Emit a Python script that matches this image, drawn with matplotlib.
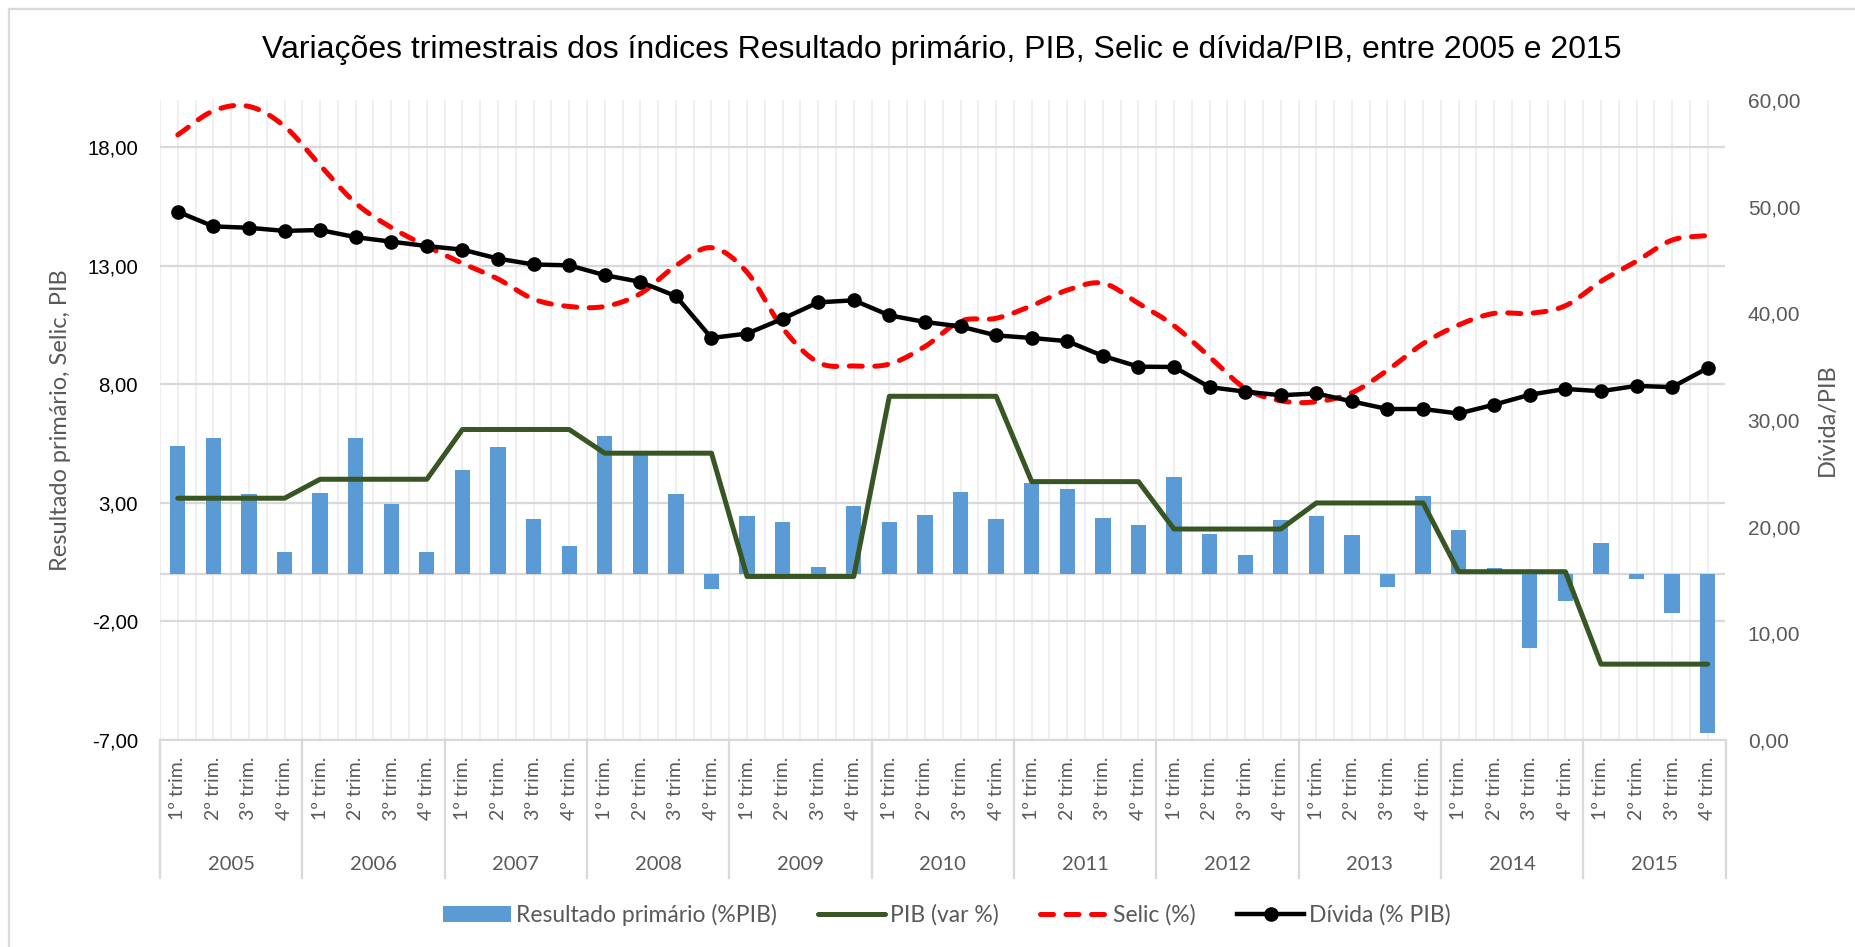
import numpy as np
import matplotlib
matplotlib.use("Agg")
import matplotlib.pyplot as plt
from matplotlib.patches import Patch, Rectangle
from matplotlib.lines import Line2D
from matplotlib.transforms import blended_transform_factory

# ---------------- data ----------------
years = ["2005", "2006", "2007", "2008", "2009", "2010",
         "2011", "2012", "2013", "2014", "2015"]
quarters = ["1º trim.", "2º trim.", "3º trim.", "4º trim."]

resultado_primario = [5.40, 5.73, 3.36, 0.93,
                      3.40, 5.73, 2.95, 0.92,
                      4.41, 5.35, 2.33, 1.20,
                      5.83, 5.10, 3.36, -0.62,
                      2.47, 2.19, 0.30, 2.87,
                      2.19, 2.48, 3.47, 2.33,
                      3.85, 3.60, 2.36, 2.08,
                      4.11, 1.67, 0.80, 2.29,
                      2.44, 1.64, -0.53, 3.29,
                      1.85, 0.25, -3.12, -1.14,
                      1.31, -0.19, -1.64, -6.69]

pib_anual = [3.2, 4.0, 6.1, 5.1, -0.1, 7.5, 3.9, 1.9, 3.0, 0.1, -3.8]

selic = [18.53, 19.54, 19.73, 18.89,
         17.25, 15.65, 14.62, 13.83,
         13.11, 12.45, 11.60, 11.29,
         11.29, 11.83, 13.01, 13.77,
         12.73, 10.38, 8.93, 8.78,
         8.86, 9.60, 10.67, 10.79,
         11.32, 11.98, 12.27, 11.42,
         10.48, 9.16, 7.84, 7.31,
         7.27, 7.65, 8.60, 9.72,
         10.51, 11.00, 11.00, 11.32,
         12.35, 13.20, 14.09, 14.28]

divida = [49.53, 48.15, 48.02, 47.73,
          47.81, 47.14, 46.72, 46.31,
          45.97, 45.13, 44.58, 44.50,
          43.58, 42.95, 41.61, 37.69,
          38.10, 39.49, 41.03, 41.22,
          39.81, 39.19, 38.77, 37.93,
          37.69, 37.39, 36.01, 35.00,
          34.97, 33.08, 32.66, 32.32,
          32.49, 31.74, 31.03, 31.03,
          30.61, 31.44, 32.37, 32.91,
          32.70, 33.20, 33.08, 34.87]

left_ticks = [-7, -2, 3, 8, 13, 18]
right_ticks = [0, 10, 20, 30, 40, 50, 60]

# ---------------- helpers ----------------
def catmull_rom(xs, ys, n=20):
    xs = np.asarray(xs, float); ys = np.asarray(ys, float)
    px = np.concatenate([[2 * xs[0] - xs[1]], xs, [2 * xs[-1] - xs[-2]]])
    py = np.concatenate([[2 * ys[0] - ys[1]], ys, [2 * ys[-1] - ys[-2]]])
    outx, outy = [], []
    t = np.linspace(0, 1, n, endpoint=False)
    for i in range(1, len(px) - 2):
        p0, p1, p2, p3 = (np.array([px[j], py[j]]) for j in (i - 1, i, i + 1, i + 2))
        c1 = p1 + (p2 - p0) / 6.0
        c2 = p2 - (p3 - p1) / 6.0
        b = ((1 - t) ** 3)[:, None] * p1 + (3 * (1 - t) ** 2 * t)[:, None] * c1 \
            + (3 * (1 - t) * t ** 2)[:, None] * c2 + (t ** 3)[:, None] * p2
        outx.extend(b[:, 0]); outy.extend(b[:, 1])
    outx.append(xs[-1]); outy.append(ys[-1])
    return np.array(outx), np.array(outy)

def fmt(v):
    return f"{v:.2f}".replace(".", ",")

# ---------------- figure ----------------
W, H = 1856, 947
fig = plt.figure(figsize=(W / 100, H / 100), dpi=100)
L, R, T, B = 160, 1725.5, 100, 740
ax = fig.add_axes([L / W, 1 - B / H, (R - L) / W, (B - T) / H])
ax2 = ax.twinx()

n = len(years) * len(quarters)
x = np.arange(n)
pib = np.repeat(pib_anual, 4)

SELIC_DASH = (2.6, 2.5)

# gridlines
for xv in np.arange(-0.5, n, 0.5):
    ax.axvline(xv, color="#EEEEEE", lw=1.3, zorder=0)
for yv in left_ticks:
    ax.axhline(yv, color="#D9D9D9", lw=1.6, zorder=0.5)
ax.axhline(0, color="#D9D9D9", lw=1.6, zorder=0.5)

ax.bar(x, resultado_primario, width=0.43, color="#5B9BD5", zorder=2)
ax.plot(x, pib, color="#375623", lw=3.6, solid_capstyle="round",
        solid_joinstyle="round", zorder=3)
sx, sy = catmull_rom(x, selic)
ax.plot(sx, sy, color="#FF0000", lw=3.6, dashes=SELIC_DASH,
        dash_capstyle="round", zorder=4)

ax2.plot(x, divida, color="black", lw=3.2, marker="o", markersize=9.5,
         solid_joinstyle="round", zorder=5)

ax.set_xlim(-0.5, n - 0.5)
ax.set_ylim(-7, 20)
ax2.set_ylim(0, 60)

for a in (ax, ax2):
    for s in a.spines.values():
        s.set_visible(False)
ax.spines["bottom"].set_visible(True)
ax.spines["bottom"].set_color("#D9D9D9")
ax.spines["bottom"].set_linewidth(1.6)

ax.set_yticks(left_ticks)
ax.set_yticklabels([fmt(v) for v in left_ticks], fontsize=14.7,
                   fontfamily="Liberation Sans", color="black")
ax.tick_params(axis="y", length=0, pad=16)
ax2.set_yticks(right_ticks)
ax2.set_yticklabels([fmt(v) for v in right_ticks], fontsize=15,
                    fontfamily="Liberation Sans", color="#595959")
ax2.tick_params(axis="y", length=0, pad=16)

ax.set_xticks(x)
ax.set_xticklabels(quarters * len(years), rotation=90, fontsize=14,
                   fontfamily="Lato", color="#595959")
ax.tick_params(axis="x", length=0, pad=12)

trans = blended_transform_factory(ax.transData, ax.transAxes)
sep_bottom = -(878 - 740) / (B - T)
for k in range(len(years) + 1):
    xb = 4 * k - 0.5
    ax.add_line(Line2D([xb, xb], [0, sep_bottom], transform=trans,
                       color="#D9D9D9", lw=1.6, clip_on=False))
for k, yr in enumerate(years):
    ax.text(4 * k + 1.5, -(864 - 740) / (B - T), yr, transform=trans,
            ha="center", va="center", fontsize=14.5, fontfamily="Lato",
            color="#595959")

ax.set_ylabel("Resultado primário, Selic, PIB", fontsize=17,
              fontfamily="Lato", color="#595959")
ax.yaxis.set_label_coords((71 - L) / (R - L), 0.5)
ax2.set_ylabel("Dívida/PIB", fontsize=17, fontfamily="Lato",
               color="#595959", rotation=90)
ax2.yaxis.set_label_coords((1817 - L) / (R - L), 0.5)

fig.text(942 / W, 1 - 50 / H,
         "Variações trimestrais dos índices Resultado primário, PIB, Selic e dívida/PIB, entre 2005 e 2015",
         ha="center", va="center", fontsize=23, fontfamily="Liberation Sans",
         color="black")

handles = [
    Patch(facecolor="#5B9BD5", edgecolor="none"),
    Line2D([], [], color="#375623", lw=3.6, solid_capstyle="round"),
    Line2D([], [], color="#FF0000", lw=3.6, dashes=SELIC_DASH,
           dash_capstyle="round"),
    Line2D([], [], color="black", lw=3.2, marker="o", markersize=9.5),
]
labels = ["Resultado primário (%PIB)", "PIB (var %)", "Selic (%)", "Dívida (% PIB)"]
leg = fig.legend(handles, labels, loc="center", bbox_to_anchor=(947 / W, 1 - 915 / H),
                 ncol=4, frameon=False, handlelength=2.95, handletextpad=0.22,
                 columnspacing=1.8, prop={"family": "Lato", "size": 16.5})
for t in leg.get_texts():
    t.set_color("#595959")

# chart border
fig.add_artist(Rectangle((9 / W, -0.01), 1.0, 1 - 9 / H + 0.01, transform=fig.transFigure,
                         fill=False, edgecolor="#D9D9D9", lw=1.6))

fig.savefig("out.png", dpi=100)
